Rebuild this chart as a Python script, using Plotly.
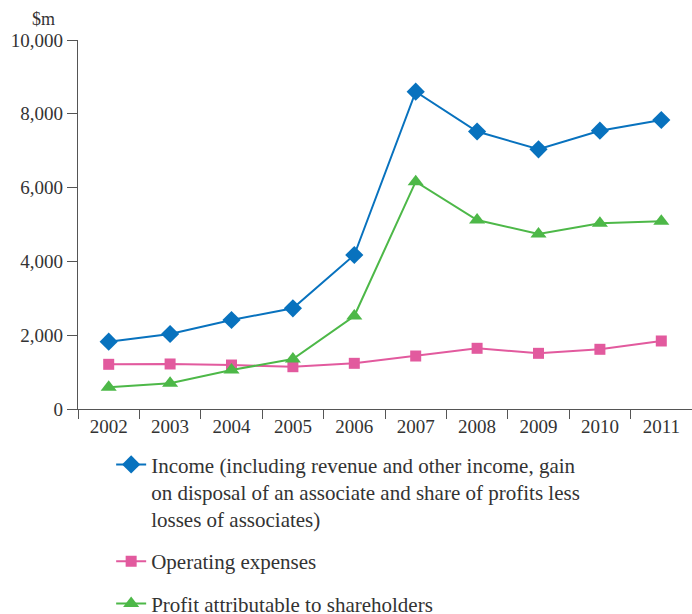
import plotly.graph_objects as go

years = ["2002", "2003", "2004", "2005", "2006", "2007", "2008", "2009", "2010", "2011"]
income = [1824, 2033, 2412, 2729, 4173, 8599, 7520, 7038, 7542, 7832]
operating_expenses = [1211, 1220, 1192, 1146, 1238, 1436, 1645, 1509, 1618, 1843]
profit = [588, 696, 1057, 1355, 2520, 6160, 5122, 4743, 5033, 5087]

income_name = ("Income (including revenue and other income, gain<br>"
               "on disposal of an associate and share of profits less<br>"
               "losses of associates)")
expenses_name = "Operating expenses"
profit_name = "Profit attributable to shareholders"

FONT = "Liberation Serif"
AXIS = "#555555"
TEXT = "#333333"

fig = go.Figure()
fig.add_trace(go.Scatter(
    x=years, y=income, name=income_name, mode="lines+markers",
    line=dict(color="#0872BE", width=2),
    marker=dict(symbol="diamond", size=14, color="#0872BE"),
    legendgroup="a",
))
fig.add_trace(go.Scatter(
    x=years, y=operating_expenses, name=expenses_name, mode="lines+markers",
    line=dict(color="#E25A9E", width=2),
    marker=dict(symbol="square", size=11, color="#E25A9E"),
    legendgroup="b",
))
fig.add_trace(go.Scatter(
    x=years, y=profit, name=profit_name, mode="lines+markers",
    line=dict(color="#4DB848", width=2),
    marker=dict(symbol="triangle-up", size=14, color="#4DB848"),
    legendgroup="c",
))

fig.update_layout(
    width=692, height=614,
    margin=dict(l=78, r=0, t=40, b=205, autoexpand=False),
    paper_bgcolor="white", plot_bgcolor="white",
    font=dict(family=FONT, size=19, color=TEXT),
    showlegend=True,
    legend=dict(
        x=0.054, y=0.2765, xanchor="left", yanchor="top",
        xref="paper", yref="container",
        font=dict(family=FONT, size=21, color=TEXT),
        traceorder="grouped", tracegroupgap=12, valign="top",
        bgcolor="rgba(0,0,0,0)",
    ),
    xaxis=dict(
        type="category", range=[-0.5, 9.5],
        showline=True, linecolor=AXIS, linewidth=1.3,
        ticks="outside", tickson="boundaries", ticklen=9, tickcolor=AXIS,
        tickwidth=1.3, showgrid=False, zeroline=False,
        tickfont=dict(family=FONT, size=19, color=TEXT),
    ),
    yaxis=dict(
        range=[0, 10000], tickvals=[0, 2000, 4000, 6000, 8000, 10000],
        tickformat=",d",
        showline=True, linecolor=AXIS, linewidth=1.3,
        ticks="outside", ticklen=10, tickcolor=AXIS, tickwidth=1.3,
        showgrid=False, zeroline=False,
        tickfont=dict(family=FONT, size=19, color=TEXT),
    ),
    annotations=[dict(
        text="$m", xref="paper", yref="paper", x=-0.057, y=1.0,
        xanchor="center", yanchor="middle", yshift=21, showarrow=False,
        font=dict(family=FONT, size=18, color=TEXT),
    )],
)

fig.write_html("out.html")
